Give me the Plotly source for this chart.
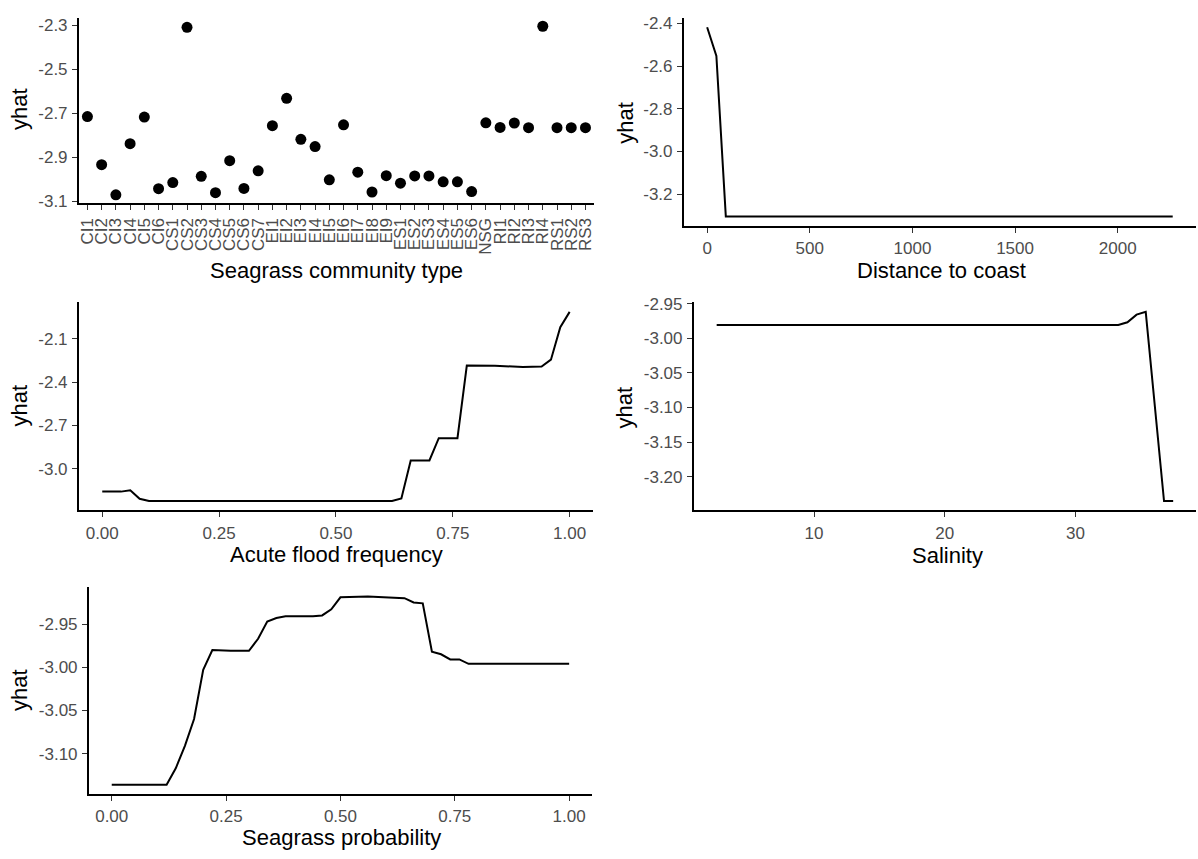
import plotly.graph_objects as go

# ---------------- data ----------------
community_types = ["CI1", "CI2", "CI3", "CI4", "CI5", "CI6",
                   "CS1", "CS2", "CS3", "CS4", "CS5", "CS6", "CS7",
                   "EI1", "EI2", "EI3", "EI4", "EI5", "EI6", "EI7", "EI8", "EI9",
                   "ES1", "ES2", "ES3", "ES4", "ES5", "ES6",
                   "NSG", "RI1", "RI2", "RI3", "RI4", "RS1", "RS2", "RS3"]
community_yhat = [-2.715, -2.933, -3.070, -2.838, -2.717, -3.042,
                  -3.014, -2.310, -2.986, -3.060, -2.915, -3.041, -2.961,
                  -2.756, -2.632, -2.818, -2.851, -3.002, -2.752, -2.967, -3.057, -2.983,
                  -3.017, -2.984, -2.984, -3.011, -3.011, -3.055,
                  -2.743, -2.764, -2.744, -2.765, -2.305, -2.765, -2.765, -2.765]

dist_x = [0, 45, 91, 2268]
dist_yhat = [-2.418, -2.552, -3.305, -3.305]

flood_x = [0.00, 0.04, 0.06, 0.08, 0.10, 0.62, 0.64, 0.66, 0.70, 0.72, 0.76, 0.78,
           0.84, 0.88, 0.90, 0.94, 0.96, 0.98, 1.00]
flood_yhat = [-3.159, -3.159, -3.150, -3.209, -3.224, -3.224, -3.206, -2.943, -2.943,
              -2.789, -2.789, -2.286, -2.288, -2.293, -2.295, -2.293, -2.245, -2.020, -1.914]

sal_x = [2.55, 33.27, 33.97, 34.67, 35.37, 36.77, 37.47]
sal_yhat = [-2.981, -2.981, -2.977, -2.966, -2.962, -3.235, -3.235]

prob_x = [0.00, 0.12, 0.14, 0.16, 0.18, 0.20, 0.22, 0.26, 0.30, 0.32, 0.34, 0.36, 0.38,
          0.44, 0.46, 0.48, 0.50, 0.56, 0.64, 0.66, 0.68, 0.70, 0.72, 0.74, 0.76, 0.78, 1.00]
prob_yhat = [-3.136, -3.136, -3.117, -3.091, -3.060, -3.003, -2.980, -2.981, -2.981,
             -2.967, -2.947, -2.943, -2.941, -2.941, -2.940, -2.933, -2.919, -2.918,
             -2.920, -2.925, -2.926, -2.982, -2.985, -2.991, -2.991, -2.996, -2.996]

p1_yticks = [-3.1, -2.9, -2.7, -2.5, -2.3]
p2_xticks = [0, 500, 1000, 1500, 2000]
p2_yticks = [-3.2, -3.0, -2.8, -2.6, -2.4]
p3_xticks = [0.00, 0.25, 0.50, 0.75, 1.00]
p3_yticks = [-3.0, -2.7, -2.4, -2.1]
p4_xticks = [10, 20, 30]
p4_yticks = [-3.20, -3.15, -3.10, -3.05, -3.00, -2.95]
p5_xticks = [0.00, 0.25, 0.50, 0.75, 1.00]
p5_yticks = [-3.10, -3.05, -3.00, -2.95]

x_titles = ["Seagrass community type", "Distance to coast", "Acute flood frequency",
            "Salinity", "Seagrass probability"]

# ---------------- layout helpers ----------------
W, H = 1198, 859
FONT = "Liberation Sans, Arial, sans-serif"
TICK_FONT = dict(family=FONT, size=17, color="#4D4D4D")


def expand(vals, mult=0.05):
    lo, hi = min(vals), max(vals)
    pad = (hi - lo) * mult
    return [lo - pad, hi + pad]


def fx(px):
    return min(max(px / W, 0), 1)


def fy(py):
    return min(max(1 - py / H, 0), 1)


def px_dom_x(a, b):
    return [fx(a), fx(b)]


def px_dom_y(top, bottom):
    return [fy(bottom), fy(top)]


def axis_style(**kw):
    d = dict(showline=True, linecolor="black", linewidth=1.8, mirror=False,
             showgrid=False, zeroline=False, ticks="outside", ticklen=5,
             tickwidth=1.4, tickcolor="#333333", tickfont=TICK_FONT,
             ticklabelstandoff=1)
    d.update(kw)
    return d


fig = go.Figure()

fig.add_trace(go.Scatter(x=community_types, y=community_yhat, mode="markers",
                         marker=dict(color="black", size=11), xaxis="x", yaxis="y",
                         showlegend=False))
fig.add_trace(go.Scatter(x=dist_x, y=dist_yhat, mode="lines",
                         line=dict(color="black", width=2), xaxis="x2", yaxis="y2",
                         showlegend=False))
fig.add_trace(go.Scatter(x=flood_x, y=flood_yhat, mode="lines",
                         line=dict(color="black", width=2), xaxis="x3", yaxis="y3",
                         showlegend=False))
fig.add_trace(go.Scatter(x=sal_x, y=sal_yhat, mode="lines",
                         line=dict(color="black", width=2), xaxis="x4", yaxis="y4",
                         showlegend=False))
fig.add_trace(go.Scatter(x=prob_x, y=prob_yhat, mode="lines",
                         line=dict(color="black", width=2), xaxis="x5", yaxis="y5",
                         showlegend=False))


def fmt(vals, nd):
    return [f"{v:.{nd}f}" for v in vals]


n_cat = len(community_types)
fig.update_layout(
    width=W, height=H, margin=dict(l=0, r=0, t=0, b=0),
    paper_bgcolor="white", plot_bgcolor="white",
    font=dict(family=FONT),
    xaxis=axis_style(domain=px_dom_x(78, 594), anchor="y", type="category",
                     range=[-0.6, n_cat - 0.4], tickangle=-90,
                     tickmode="array", tickvals=community_types, ticktext=community_types,
                     categoryorder="array", categoryarray=community_types),
    yaxis=axis_style(domain=px_dom_y(10, 199), anchor="x", range=expand(community_yhat),
                     tickvals=p1_yticks, ticktext=fmt(p1_yticks, 1)),
    xaxis2=axis_style(domain=px_dom_x(684, 1197), anchor="y2", range=expand(dist_x),
                      tickvals=p2_xticks, ticktext=[str(v) for v in p2_xticks]),
    yaxis2=axis_style(domain=px_dom_y(10, 222), anchor="x2", range=expand(dist_yhat),
                      tickvals=p2_yticks, ticktext=fmt(p2_yticks, 1)),
    xaxis3=axis_style(domain=px_dom_x(78, 593), anchor="y3", range=expand(flood_x),
                      tickvals=p3_xticks, ticktext=fmt(p3_xticks, 2)),
    yaxis3=axis_style(domain=px_dom_y(300, 512), anchor="x3", range=expand(flood_yhat),
                      tickvals=p3_yticks, ticktext=fmt(p3_yticks, 1)),
    xaxis4=axis_style(domain=px_dom_x(694, 1197), anchor="y4", range=expand(sal_x),
                      tickvals=p4_xticks, ticktext=[str(v) for v in p4_xticks]),
    yaxis4=axis_style(domain=px_dom_y(300, 512), anchor="x4", range=expand(sal_yhat),
                      tickvals=p4_yticks, ticktext=fmt(p4_yticks, 2)),
    xaxis5=axis_style(domain=px_dom_x(88, 592), anchor="y5", range=expand(prob_x),
                      tickvals=p5_xticks, ticktext=fmt(p5_xticks, 2)),
    yaxis5=axis_style(domain=px_dom_y(590, 801), anchor="x5", range=expand(prob_yhat),
                      tickvals=p5_yticks, ticktext=fmt(p5_yticks, 2)),
)

TITLE_FONT = dict(family=FONT, size=22, color="black")
xtitle_pos = [(336, 267), (942, 267), (336, 557), (948, 558), (341, 845)]
ytitle_pos = [(18, 103), (626, 117), (18, 405), (624, 407), (18, 695)]

for text, (px, py) in zip(x_titles, xtitle_pos):
    fig.add_annotation(text=text, xref="paper", yref="paper", x=fx(px), y=fy(py),
                       xanchor="center", yanchor="middle", showarrow=False, font=TITLE_FONT)
for (px, py) in ytitle_pos:
    fig.add_annotation(text="yhat", xref="paper", yref="paper", x=fx(px), y=fy(py),
                       xanchor="center", yanchor="middle", showarrow=False,
                       textangle=-90, font=TITLE_FONT)

# remove the default page margin so the 1198x859 figure fills the window exactly
fig.write_html("out.html", config={"displayModeBar": False},
               post_script="document.body.style.margin='0';")
